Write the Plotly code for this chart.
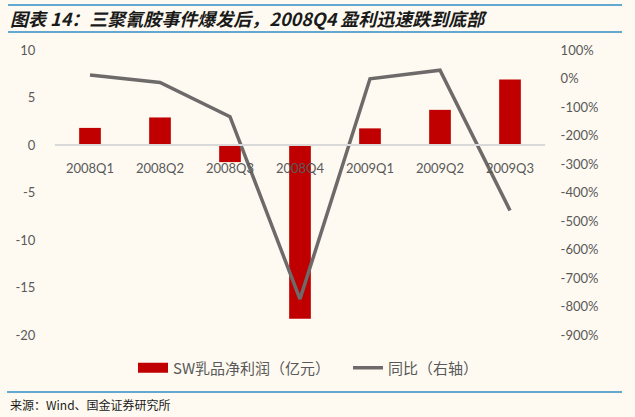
import plotly.graph_objects as go

categories = ["2008Q1", "2008Q2", "2008Q3", "2008Q4", "2009Q1", "2009Q2", "2009Q3"]
profit = [1.8, 2.9, -1.8, -18.3, 1.75, 3.7, 6.9]          # 亿元
yoy = [0.12, -0.14, -1.34, -7.74, -0.01, 0.29, -4.63]      # ratio
left_ticks = [10, 5, 0, -5, -10, -15, -20]
right_ticks = [1, 0, -1, -2, -3, -4, -5, -6, -7, -8, -9]

bg = "#FEFAF1"
red = "#C00000"
gray = "#6E6A6A"
tick_font = dict(family="Lato, Open Sans, sans-serif", size=13, color="#595959")
blue = "#2E8DC6"
W, H = 635, 417
ML, MR, MT, MB = 55, 90, 50, 82
PH = H - MT - MB
PW = W - ML - MR


def py(px):  # page pixel y -> paper fraction
    return (H - MB - px) / PH


def pxx(px):  # page pixel x -> paper fraction
    return (px - ML) / PW


fig = go.Figure()
fig.add_trace(go.Bar(
    x=categories, y=profit, name="SW乳品净利润（亿元）", showlegend=False,
    marker=dict(color=red, line=dict(width=0)), width=0.31,
))
# legend-only entry so the legend key is a wide red block as in the reference
fig.add_trace(go.Scatter(
    x=[None], y=[None], name="SW乳品净利润（亿元）", mode="lines",
    line=dict(color=red, width=10), hoverinfo="skip",
))
fig.add_trace(go.Scatter(
    x=categories, y=yoy, name="同比（右轴）", yaxis="y2", mode="lines",
    line=dict(color=gray, width=3.5),
))

fig.update_layout(
    width=W, height=H,
    paper_bgcolor=bg, plot_bgcolor=bg,
    margin=dict(l=ML, r=MR, t=MT, b=MB),
    showlegend=True,
    legend=dict(orientation="h", x=pxx(133), xanchor="left", y=py(368), yanchor="middle",
                font=dict(family="Noto Sans CJK SC, Lato, sans-serif", size=15, color="#595959"),
                bgcolor="rgba(0,0,0,0)", itemwidth=30, traceorder="normal",
                entrywidth=170),
    xaxis=dict(
        anchor="free", position=(0 - (-20)) / 30.0,
        showline=True, linecolor="#D9D9D9", linewidth=1.5,
        showgrid=False, ticks="outside", ticklen=12, tickcolor="rgba(0,0,0,0)",
        tickfont=tick_font, fixedrange=True,
    ),
    yaxis=dict(
        range=[-20, 10], tickvals=left_ticks, ticktext=[str(v) for v in left_ticks],
        showgrid=False, zeroline=False, showline=False,
        ticks="outside", ticklen=16, tickcolor="rgba(0,0,0,0)",
        tickfont=tick_font,
    ),
    yaxis2=dict(
        overlaying="y", side="right", range=[-9, 1],
        tickvals=right_ticks, ticktext=[f"{int(v*100)}%" for v in right_ticks],
        showgrid=False, zeroline=False, showline=False,
        ticks="outside", ticklen=12, tickcolor="rgba(0,0,0,0)",
        tickfont=tick_font,
    ),
    bargap=0.69,
    shapes=[
        dict(type="line", xref="paper", yref="paper", x0=pxx(8), x1=pxx(622), y0=py(5), y1=py(5),
             line=dict(color=blue, width=1.5)),
        dict(type="line", xref="paper", yref="paper", x0=pxx(8), x1=pxx(622), y0=py(32), y1=py(32),
             line=dict(color=blue, width=1.5)),
        dict(type="line", xref="paper", yref="paper", x0=pxx(7), x1=pxx(622), y0=py(392), y1=py(392),
             line=dict(color=blue, width=1.5)),
    ],
    annotations=[
        dict(text="<b><i>图表 14：三聚氰胺事件爆发后，2008Q4 盈利迅速跌到底部</i></b>",
             xref="paper", yref="paper", x=pxx(8), y=py(18),
             xanchor="left", yanchor="middle", showarrow=False,
             font=dict(family="Noto Sans CJK SC, sans-serif", size=18, color="#1A1A1A")),
        dict(text="来源：Wind、国金证券研究所",
             xref="paper", yref="paper", x=pxx(8), y=py(405),
             xanchor="left", yanchor="middle", showarrow=False,
             font=dict(family="Noto Sans CJK SC, sans-serif", size=12, color="#1A1A1A")),
    ],
)

fig.write_html(
    "out.html",
    config={"displayModeBar": False},
    post_script="document.body.style.margin='0px';document.body.style.background='" + bg + "';",
)
